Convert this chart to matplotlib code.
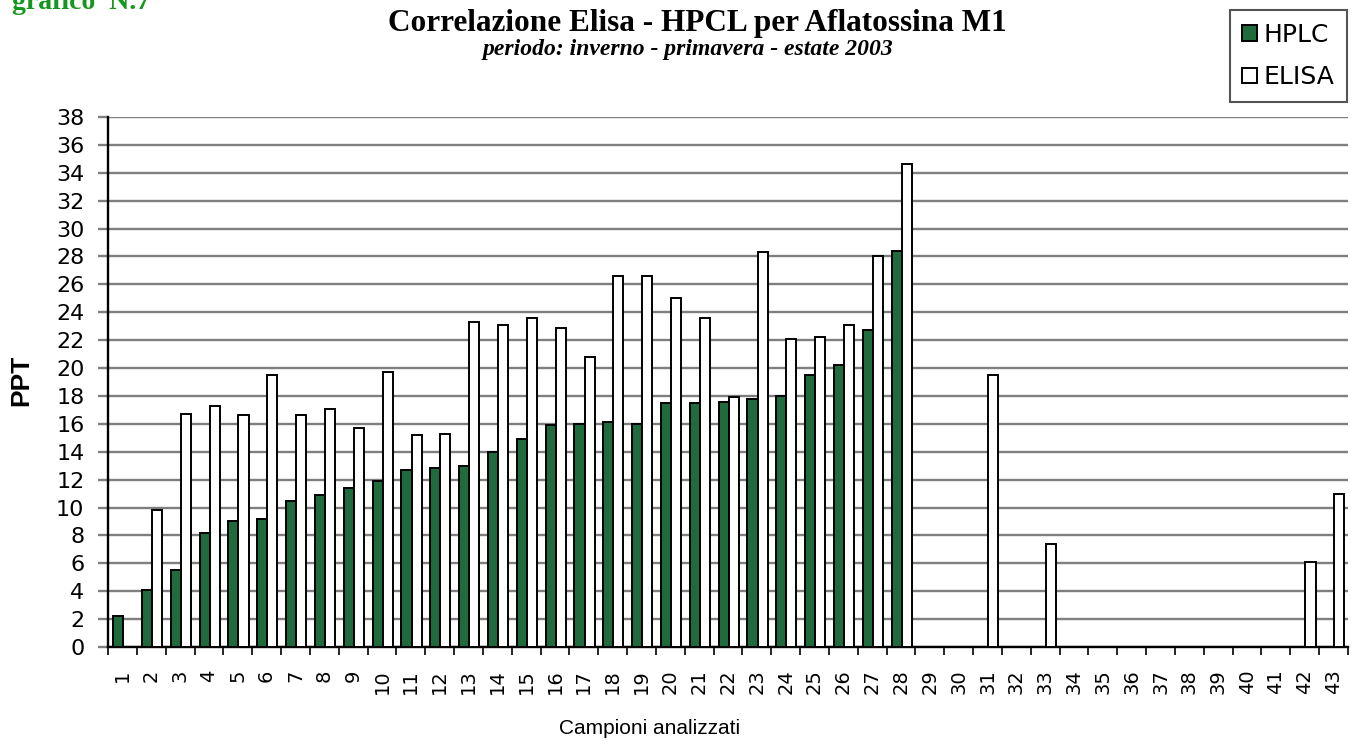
import numpy as np
import matplotlib
matplotlib.use('Agg')
import matplotlib.pyplot as plt
import matplotlib.patches as mpatches

# dati (PPT)
campioni = [str(i) for i in range(1, 44)]
hplc = [2.2, 4.1, 5.5, 8.2, 9.0, 9.2, 10.5, 10.9, 11.4, 11.9,
        12.7, 12.8, 13.0, 14.0, 14.9, 15.9, 16.0, 16.1, 16.0, 17.5,
        17.5, 17.6, 17.8, 18.0, 19.5, 20.2, 22.7, 28.4,
        0, 0, 0, 0, 0, 0, 0, 0, 0, 0, 0, 0, 0, 0, 0]
elisa = [0, 9.8, 16.7, 17.3, 16.6, 19.5, 16.6, 17.1, 15.7, 19.7,
         15.2, 15.3, 23.3, 23.1, 23.6, 22.9, 20.8, 26.6, 26.6, 25.0,
         23.6, 17.9, 28.3, 22.1, 22.2, 23.1, 28.0, 34.6,
         0, 0, 19.5, 0, 7.4, 0, 0, 0, 0, 0, 0, 0, 0, 6.1, 11.0]
yticks = list(range(0, 39, 2))

green = '#1f6b3d'
gridgrey = '#7f7f7f'
sans = ['Liberation Sans', 'DejaVu Sans']
wide = ['DejaVu Sans']
serif = ['Liberation Serif', 'DejaVu Serif']

fig = plt.figure(figsize=(13.55, 7.47), dpi=100)
ax = fig.add_axes([108/1355, 1-647/747, (1348-108)/1355, (647-117)/747])

x = np.arange(1, len(campioni)+1)
ax.bar(x-0.15, hplc, width=0.35, color=green, edgecolor='black', linewidth=1.4, zorder=3)
ax.bar(x+0.2, elisa, width=0.35, color='white', edgecolor='black', linewidth=1.4, zorder=3)

ax.set_xlim(0.5, len(campioni)+0.5)
ax.set_ylim(0, 38)
ax.set_yticks(yticks)
ax.set_yticklabels([str(v) for v in yticks], fontsize=16, family=wide)
ax.yaxis.grid(True, color=gridgrey, linewidth=1.7, zorder=0)
ax.set_axisbelow(True)
ax.tick_params(axis='y', length=7, width=1.7, color=gridgrey, pad=10)

ax.set_xticks(x)
ax.set_xticklabels(campioni, rotation=90, fontsize=14, family=wide)
ax.set_xticks(np.arange(0.5, len(campioni)+1, 1), minor=True)
ax.tick_params(axis='x', which='major', length=0, pad=16)
ax.tick_params(axis='x', which='minor', length=6, width=1.2, color='black')

for s in ['top', 'right']:
    ax.spines[s].set_visible(False)
ax.spines['left'].set_linewidth(1.7)
ax.spines['bottom'].set_linewidth(1.7)

fig.text(21/1355, 1-380/747, 'PPT', rotation=90, ha='center', va='center',
         fontsize=19, fontweight='bold', family=sans)
fig.text(650/1355, 1-734/747, 'Campioni analizzati', ha='center', va='baseline',
         fontsize=15, family=sans)

fig.text(697/1355, 1-31/747, 'Correlazione Elisa - HPCL per Aflatossina M1',
         ha='center', va='baseline', fontsize=22.5, fontweight='bold', family=serif)
fig.text(688/1355, 1-55/747, 'periodo: inverno - primavera - estate 2003',
         ha='center', va='baseline', fontsize=17, fontweight='bold', style='italic', family=serif)
fig.text(12/1355, 1-9/747, 'grafico  N.7', ha='left', va='baseline',
         fontsize=20, fontweight='bold', family=serif, color='#15961e')

h1 = mpatches.Patch(facecolor=green, edgecolor='black', linewidth=1.4, label='HPLC')
h2 = mpatches.Patch(facecolor='white', edgecolor='black', linewidth=1.4, label='ELISA')
leg = fig.legend(handles=[h1, h2], loc='upper right', bbox_to_anchor=(1347/1355, 1-10/747),
                 prop={'family': wide, 'size': 18}, fancybox=False, framealpha=1,
                 edgecolor='#555555', handlelength=0.6, handleheight=0.6, handletextpad=0.25,
                 labelspacing=0.75, borderpad=0.5, borderaxespad=0)
leg.get_frame().set_linewidth(1.5)

fig.savefig('out.png', dpi=100)
